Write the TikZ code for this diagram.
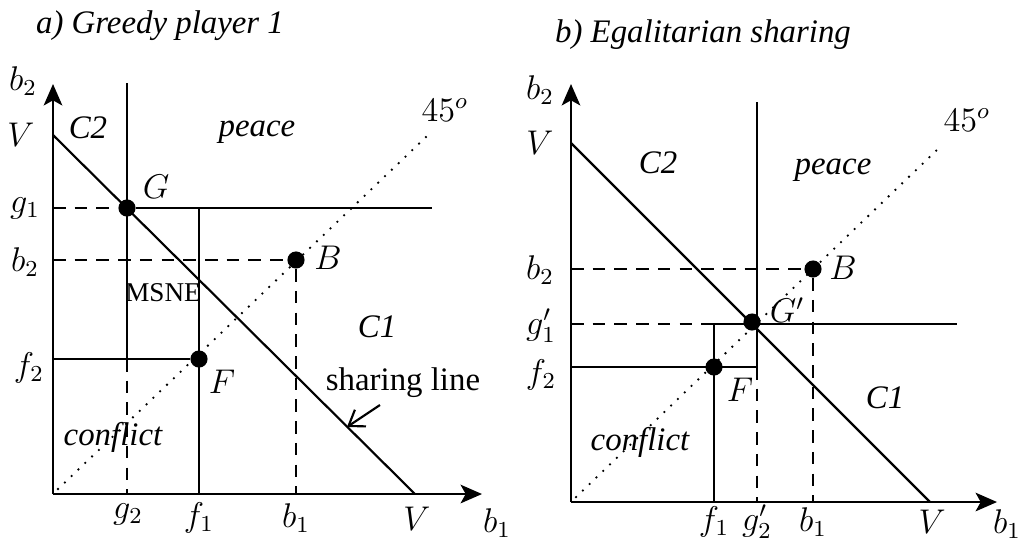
\documentclass[tikz,border=0pt]{standalone}
\usepackage{fontspec}
\setmainfont{Liberation Serif}
\usetikzlibrary{arrows.meta}

\begin{document}
\begin{tikzpicture}[
    x=0.35pt, y=-0.35pt,
    axis/.style={line width=0.8pt, -{Stealth[length=7.5pt, width=6.5pt, inset=1.8pt]}},
    ln/.style={line width=0.75pt},
    dsh/.style={line width=0.75pt, dash pattern=on 4.4pt off 3.2pt},
    diag/.style={line width=0.9pt, line cap=round, dash pattern=on 0pt off 3.3pt},
    pt/.style={circle, fill, inner sep=0pt, minimum size=6pt},
    lbl/.style={font=\fontsize{12}{14}\selectfont, inner sep=1pt},
    reg/.style={font=\fontsize{11.5}{13}\selectfont\itshape, inner sep=1pt}
]
\useasboundingbox (0,0) rectangle (1026,541);

% --- Titles ---
\node[reg] (titA) at (160,26) {a) Greedy player 1};
\node[reg] (titB) at (703,35) {b) Egalitarian sharing};

% ===== a) Greedy player 1 =====
% --- Points ---
\coordinate (aO)   at (53,494);
\coordinate (aY)   at (53,84);
\coordinate (aX)   at (482,494);
\coordinate (aV2)  at (53,135);
\coordinate (aV1)  at (415,494);
\coordinate (aD0)  at (58,489);
\coordinate (aD1)  at (427,136);
\coordinate (aGt)  at (127,83);
\coordinate (aGr)  at (432,208);
\coordinate (aGl)  at (53,208);
\coordinate (aGb)  at (127,359);
\coordinate (aGx)  at (127,494);
\coordinate (aFt)  at (199,208);
\coordinate (aFx)  at (199,494);
\coordinate (aFl)  at (53,359);
\coordinate (aBl)  at (53,260);
\coordinate (aBx)  at (296,494);

\node[pt] (G) at (127,208) {};
\node[pt] (F) at (199,359) {};
\node[pt] (B) at (296,260) {};

% --- Lines ---
\draw[diag] (aD0) -- (aD1);
\draw[axis] (aO) -- (aY);
\draw[axis] (aO) -- (aX);
\draw[ln] (aV2) -- (aV1);
\draw[ln] (aGt) -- (aGb);
\draw[dsh] (aGb) -- (aGx);
\draw[dsh] (aGl) -- (G);
\draw[ln] (G) -- (aGr);
\draw[ln] (aFt) -- (aFx);
\draw[ln] (aFl) -- (F);
\draw[dsh] (aBl) -- (B);
\draw[dsh] (B) -- (aBx);

% --- Labels ---
\node[lbl] (aLb2) at (23,81)  {$b_2$};
\node[lbl] (aLV)  at (21,135) {$V$};
\node[lbl] (aLg1) at (25,208) {$g_1$};
\node[lbl] (aLbb) at (25,262) {$b_2$};
\node[lbl] (aLf2) at (29,368) {$f_2$};
\node[lbl] (aLg2) at (128,514) {$g_2$};
\node[lbl] (aLf1) at (199,518) {$f_1$};
\node[lbl] (aLb1) at (296,518) {$b_1$};
\node[lbl] (aLVx) at (417,519) {$V$};
\node[lbl] (aLx)  at (497,523) {$b_1$};
\node[lbl] (aL45) at (445,110) {$45^o$};
\node[lbl] (aLG)  at (156,187) {$G$};
\node[lbl] (aLF)  at (222,382) {$F$};
\node[lbl] (aLB)  at (328,258) {$B$};
\node[reg] (aC2)  at (88,128)  {C2};
\node[reg] (aPc)  at (257,132) {peace};
\node[reg] (aC1)  at (377,327) {C1};
\node[reg] (aCf)  at (113,437) {conflict};
\node[font=\fontsize{9.5}{11}\selectfont, inner sep=1pt] (msne) at (163,293) {MSNE};
\node[font=\fontsize{11.5}{13}\selectfont, inner sep=1pt] (share) at (403,383) {sharing line};
\coordinate (aSh) at (347,427);
\draw[line width=0.75pt, -{Straight Barb[length=5pt, width=7pt]}] (380,405) -- (aSh);

% ===== b) Egalitarian sharing =====
% --- Points ---
\coordinate (bO)   at (571,502);
\coordinate (bY)   at (571,84);
\coordinate (bX)   at (997,502);
\coordinate (bV2)  at (571,143);
\coordinate (bV1)  at (930,502);
\coordinate (bD0)  at (576,497);
\coordinate (bD1)  at (942,145);
\coordinate (bGt)  at (757,102);
\coordinate (bGb)  at (757,367);
\coordinate (bGx)  at (757,502);
\coordinate (bHl)  at (571,324);
\coordinate (bHm)  at (714,324);
\coordinate (bHr)  at (957,324);
\coordinate (bFx)  at (714,502);
\coordinate (bFl)  at (571,367);
\coordinate (bBl)  at (571,269);
\coordinate (bBx)  at (813,502);

\node[pt] (Gp) at (752,322) {};
\node[pt] (Fb) at (714,367) {};
\node[pt] (Bb) at (813,269) {};

% --- Lines ---
\draw[diag] (bD0) -- (bD1);
\draw[axis] (bO) -- (bY);
\draw[axis] (bO) -- (bX);
\draw[ln] (bV2) -- (bV1);
\draw[ln] (bGt) -- (bGb);
\draw[dsh] (bGb) -- (bGx);
\draw[dsh] (bHl) -- (bHm);
\draw[ln] (bHm) -- (bHr);
\draw[ln] (bHm) -- (bFx);
\draw[ln] (bFl) -- (bGb);
\draw[dsh] (bBl) -- (Bb);
\draw[dsh] (Bb) -- (bBx);

% --- Labels ---
\node[lbl] (bLb2) at (540,90)  {$b_2$};
\node[lbl] (bLV)  at (540,143) {$V$};
\node[lbl] (bLbb) at (540,270) {$b_2$};
\node[lbl] (bLg1) at (541,326) {$g_1'$};
\node[lbl] (bLf2) at (541,375) {$f_2$};
\node[lbl] (bLf1) at (714,522) {$f_1$};
\node[lbl] (bLg2) at (757,522) {$g_2'$};
\node[lbl] (bLb1) at (813,522) {$b_1$};
\node[lbl] (bLVx) at (932,522) {$V$};
\node[lbl] (bLx)  at (1007,524) {$b_1$};
\node[lbl] (bL45) at (967,120) {$45^o$};
\node[lbl] (bLG)  at (787,310) {$G'$};
\node[lbl] (bLF)  at (740,390) {$F$};
\node[lbl] (bLB)  at (843,268) {$B$};
\node[reg] (bC2)  at (658,163) {C2};
\node[reg] (bPc)  at (833,170) {peace};
\node[reg] (bC1)  at (885,398) {C1};
\node[reg] (bCf)  at (640,442) {conflict};

\end{tikzpicture}
\end{document}
